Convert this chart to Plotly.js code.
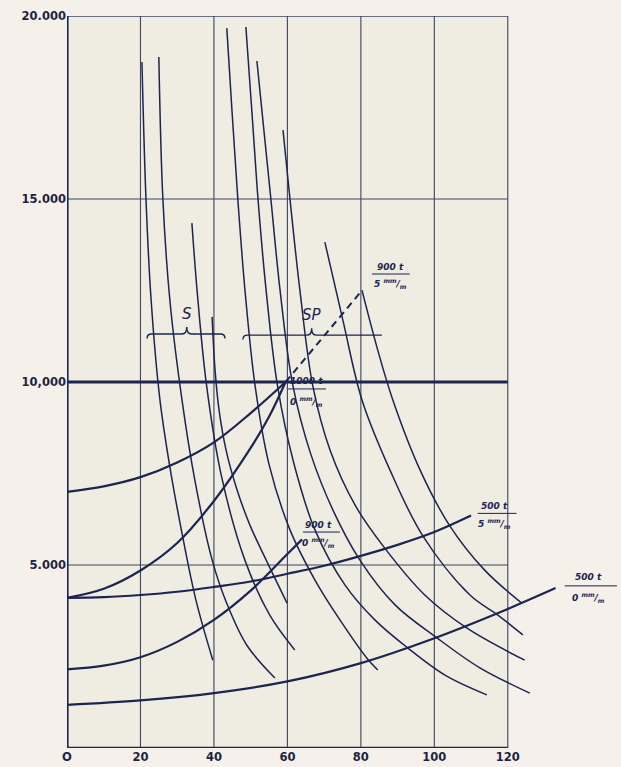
<!DOCTYPE html>
<html>
<head>
<meta charset="utf-8">
<script src="https://cdn.plot.ly/plotly-3.0.1.min.js"></script>
<style>html,body{margin:0;padding:0;background:#f5f0ea;}#chart{width:621px;height:767px;}</style>
</head>
<body>
<div id="chart"></div>
<script>
// ---- tick labels ----
const xTickVals = [0, 20, 40, 60, 80, 100, 120];
const xTickText = ["O", "20", "40", "60", "80", "100", "120"];
const yTickVals = [5000, 10000, 15000, 20000];
const yTickText = ["5.000", "10,000", "15.000", "20.000"];

// ---- descending (tractive effort) curves, S group ----
const s1X = [20.4, 21.5, 22.9, 25.3, 28.0, 31.3, 35.1, 39.7];
const s1Y = [18740, 15000, 12240, 9510, 7680, 5870, 4040, 2400];
const s2X = [25.0, 26.1, 28.0, 31.3, 34.8, 39.5, 43.5, 49.0, 56.6];
const s2Y = [18880, 15000, 12240, 9510, 7320, 5140, 3950, 2800, 1910];
const s3X = [34.0, 35.5, 38.0, 42.0, 48.4, 55.2, 62.0];
const s3Y = [14340, 12400, 9900, 7450, 5140, 3630, 2680];
const s4X = [39.5, 40.3, 41.4, 43.3, 46.3, 49.8, 54.2, 59.9];
const s4Y = [11780, 10330, 9230, 8140, 7050, 6090, 5140, 3960];

// ---- descending curves, SP group ----
const sp1X = [43.5, 44.9, 46.5, 48.5, 51.2, 55.0, 60.7, 67.5, 74.3, 81.6, 84.6];
const sp1Y = [19670, 17430, 15000, 12450, 9900, 7750, 5960, 4590, 3500, 2460, 2130];
const sp2X = [48.7, 50.3, 52.0, 54.2, 57.3, 61.7, 67.5, 75.7, 83.8, 92.8, 102.9, 114.3];
const sp2Y = [19700, 17430, 15000, 12510, 9900, 7800, 5960, 4450, 3500, 2730, 1990, 1450];
const sp3X = [51.7, 53.6, 55.5, 58.0, 61.4, 66.3, 72.4, 79.7, 89.3, 100.7, 112.4, 126.0];
const sp3Y = [18770, 16880, 15000, 12510, 9950, 8050, 6500, 5140, 3910, 3010, 2190, 1500];
const sp4X = [58.8, 60.7, 63.4, 66.9, 71.6, 78.4, 86.5, 97.4, 108.8, 124.6];
const sp4Y = [16880, 15000, 12510, 9900, 8140, 6640, 5460, 4180, 3280, 2400];
const sp5X = [70.2, 75.1, 80.3, 87.9, 96.9, 109.7, 117.3, 124.1];
const sp5Y = [13820, 11690, 9510, 7600, 5790, 4180, 3630, 3090];
const sp6X = [80.3, 84.6, 88.7, 96.1, 104.2, 113.7, 123.8];
const sp6Y = [12510, 10870, 9510, 7600, 6070, 4860, 3960];

// ---- ascending (train resistance) curves ----
const r1000t0X = [0, 10, 20, 30, 40, 50, 59.5];
const r1000t0Y = [7000, 7150, 7400, 7800, 8350, 9150, 10000];
const r900t5X = [0, 10, 20, 30, 40, 50, 55, 59.5];
const r900t5Y = [4100, 4350, 4850, 5600, 6750, 8200, 9050, 10000];
const r900t5DashX = [59.5, 70, 80.3];
const r900t5DashY = [10000, 11250, 12500];
const r500t5X = [0, 10, 20, 30, 40, 50, 60, 70, 80, 90, 100, 110];
const r500t5Y = [4100, 4120, 4180, 4270, 4400, 4550, 4760, 4980, 5250, 5550, 5900, 6350];
const r900t0X = [0, 10, 20, 30, 40, 50, 60, 64];
const r900t0Y = [2150, 2250, 2480, 2900, 3500, 4300, 5300, 5700];
const r500t0X = [0, 20, 40, 60, 80, 100, 120, 133];
const r500t0Y = [1180, 1300, 1500, 1820, 2320, 3000, 3800, 4370];

// ---- grid ----
const gridX = [20, 40, 60, 80, 100, 120];
const gridY = [5000, 15000];
const adhesionLimit = 10000;
const xMax = 120, yMax = 20000;

// ---- curve labels (numerator, denominator) ----
const labels = [
  {num: "900 t", den: "5 <sup>mm</sup>/<sub>m</sub>", x: 88.0, yn: 13150, yb: 12950, yd: 12680, x0: 83.0, x1: 93.3},
  {num: "1000 t", den: "0 <sup>mm</sup>/<sub>m</sub>", x: 65.2, yn: 10040, yb: 9810, yd: 9470, x0: 60.1, x1: 70.5},
  {num: "900 t", den: "0 <sup>mm</sup>/<sub>m</sub>", x: 68.4, yn: 6090, yb: 5900, yd: 5620, x0: 64.2, x1: 74.3},
  {num: "500 t", den: "5 <sup>mm</sup>/<sub>m</sub>", x: 116.5, yn: 6620, yb: 6410, yd: 6130, x0: 111.8, x1: 122.4},
  {num: "500 t", den: "0 <sup>mm</sup>/<sub>m</sub>", x: 142.0, yn: 4680, yb: 4430, yd: 4100, x0: 135.5, x1: 149.7}
];

// ---- braces S / SP ----
const braceS = {name: "S", x0: 21.8, xc: 32.6, x1: 43.0, y: 11310, tip: 11500};
const braceSP = {name: "SP", x0: 47.9, xc: 66.6, x1: 85.7, y: 11280, tip: 11470};

const ink = "#1b2550";
const gridInk = "#3d4560";

const traces = [];
function curve(x, y, w, dash) {
  traces.push({x: x, y: y, mode: "lines", type: "scatter", hoverinfo: "skip",
    line: {color: ink, width: w, shape: "spline", smoothing: 1, dash: dash || "solid"}});
}
[[s1X,s1Y],[s2X,s2Y],[s3X,s3Y],[s4X,s4Y],[sp1X,sp1Y],[sp2X,sp2Y],[sp3X,sp3Y],[sp4X,sp4Y],[sp5X,sp5Y],[sp6X,sp6Y]]
  .forEach(c => curve(c[0], c[1], 1.5));
[[r1000t0X,r1000t0Y],[r900t5X,r900t5Y],[r500t5X,r500t5Y],[r900t0X,r900t0Y],[r500t0X,r500t0Y]]
  .forEach(c => curve(c[0], c[1], 2.2));
traces.push({x: r900t5DashX, y: r900t5DashY, mode: "lines", type: "scatter", hoverinfo: "skip",
  line: {color: ink, width: 2, dash: "7px,5px"}});

const shapes = [];
shapes.push({type: "rect", xref: "x", yref: "y", x0: 0, x1: xMax, y0: 0, y1: yMax, layer: "below",
  fillcolor: "#efece2", line: {width: 0}});
gridX.forEach(v => shapes.push({type: "line", xref: "x", yref: "y", x0: v, x1: v, y0: 0, y1: yMax, layer: "below",
  line: {color: gridInk, width: 1.1}}));
gridY.forEach(v => shapes.push({type: "line", xref: "x", yref: "y", x0: 0, x1: xMax, y0: v, y1: v, layer: "below",
  line: {color: gridInk, width: 1.1}}));
shapes.push({type: "line", xref: "x", yref: "y", x0: 0, x1: xMax, y0: yMax, y1: yMax, line: {color: gridInk, width: 1.3}});
shapes.push({type: "line", xref: "x", yref: "y", x0: 0, x1: xMax, y0: adhesionLimit, y1: adhesionLimit, line: {color: ink, width: 3}});
shapes.push({type: "line", xref: "x", yref: "y", x0: 0, x1: xMax, y0: 0, y1: 0, line: {color: ink, width: 2.6}});
shapes.push({type: "line", xref: "x", yref: "y", x0: 0, x1: 0, y0: 0, y1: yMax, line: {color: ink, width: 3.2}});

function bracePath(b, curlRight) {
  const d = 120;
  let p = `M ${b.x0} ${b.y - d} Q ${b.x0} ${b.y} ${b.x0 + 1.2} ${b.y}`;
  p += ` L ${b.xc - 1.3} ${b.y} Q ${b.xc} ${b.y} ${b.xc} ${b.tip}`;
  p += ` Q ${b.xc} ${b.y} ${b.xc + 1.3} ${b.y}`;
  if (curlRight) p += ` L ${b.x1 - 1.2} ${b.y} Q ${b.x1} ${b.y} ${b.x1} ${b.y - d}`;
  else p += ` L ${b.x1} ${b.y}`;
  return p;
}
shapes.push({type: "path", xref: "x", yref: "y", path: bracePath(braceS, true), line: {color: ink, width: 1.4}});
shapes.push({type: "path", xref: "x", yref: "y", path: bracePath(braceSP, false), line: {color: ink, width: 1.4}});

const annotations = [];
const lblFont = {family: "DejaVu Sans", size: 9, color: ink, style: "italic", weight: "bold"};
labels.forEach(l => {
  annotations.push({x: l.x, y: l.yn, xref: "x", yref: "y", text: l.num, showarrow: false, font: lblFont});
  annotations.push({x: l.x, y: l.yd, xref: "x", yref: "y", text: l.den, showarrow: false, font: lblFont});
  shapes.push({type: "line", xref: "x", yref: "y", x0: l.x0, x1: l.x1, y0: l.yb, y1: l.yb, line: {color: ink, width: 1}});
});
[braceS, braceSP].forEach(b => annotations.push({x: b.xc, y: b.tip + 350, xref: "x", yref: "y", text: b.name,
  showarrow: false, font: {family: "DejaVu Sans", size: 15, color: ink, style: "italic"}}));
annotations.push({x: 127.5, y: -420, xref: "x", yref: "y", text: "km/<sub>h</sub>", showarrow: false,
  font: {family: "DejaVu Sans", size: 11, color: ink, style: "italic", weight: "bold"}});

const tickFont = {family: "DejaVu Sans", size: 11.5, color: "#1e2440", weight: "bold"};
const layout = {
  width: 621, height: 767,
  margin: {l: 67, r: 3, t: 16, b: 19},
  paper_bgcolor: "#f5f0ea", plot_bgcolor: "rgba(0,0,0,0)",
  showlegend: false,
  xaxis: {range: [0, 150], showgrid: false, zeroline: false, showline: false, automargin: false,
    tickmode: "array", tickvals: xTickVals, ticktext: xTickText, ticks: "", tickfont: tickFont},
  yaxis: {range: [0, 20000], showgrid: false, zeroline: false, showline: false, automargin: false,
    tickmode: "array", tickvals: yTickVals, ticktext: yTickText, ticks: "", tickfont: tickFont},
  shapes: shapes, annotations: annotations
};
Plotly.newPlot("chart", traces, layout, {displayModeBar: false, staticPlot: true});
</script>
</body>
</html>
